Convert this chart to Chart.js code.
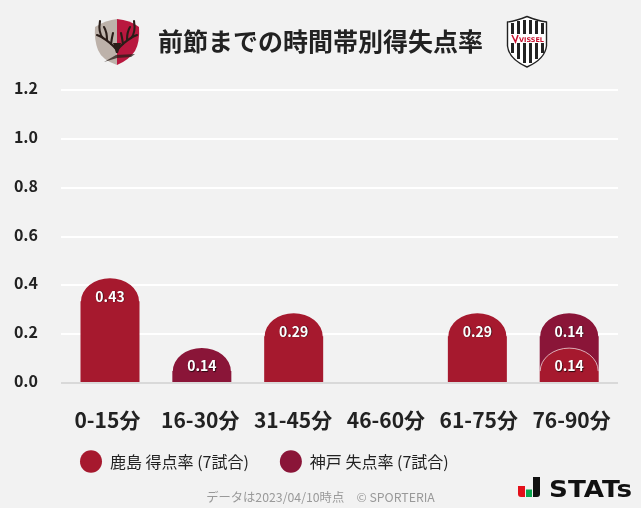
<!DOCTYPE html>
<html lang="ja">
<head>
<meta charset="utf-8">
<style>
html,body{margin:0;padding:0;background:#f2f2f2;}
#wrap{position:relative;width:641px;height:508px;overflow:hidden;}
canvas{position:absolute;left:0;top:0;}
svg{position:absolute;left:0;top:0;pointer-events:none;}
</style>
<script src="https://cdn.jsdelivr.net/npm/chart.js@4/dist/chart.umd.js"></script>
</head>
<body>
<div id="wrap">
<canvas id="c" width="641" height="508"></canvas>
<svg width="641" height="508" viewBox="0 0 641 508">
  <!-- Kashima crest -->
  <path d="M95 27 Q106 20 117 19 L117 65 Q102 60 98 50 Q94 40 95 27Z" fill="#bdb2aa"/>
  <path d="M117 19 Q130 20 139 27 Q140 42 135 51 Q129 60 117 65Z" fill="#b9183f"/>
  <g fill="none" stroke="#2a1d18" stroke-width="2.1" stroke-linecap="round">
    <path d="M117 50 Q110 42 103 38 Q98 33 100 21"/>
    <path d="M103 38 Q100 36 97 35"/>
    <path d="M107 40 Q107 32 104 27"/>
    <path d="M111 44 Q112 37 113 33"/>
    <path d="M117 50 Q124 42 131 38 Q136 33 134 21"/>
    <path d="M131 38 Q134 36 137 35"/>
    <path d="M127 40 Q127 32 130 27"/>
    <path d="M123 44 Q122 37 121 33"/>
  </g>
  <path d="M113 43 L121 43 L118 53 L116 53Z" fill="#2a1d18"/>
  <path d="M104 62 L116 55 L135 54 L131 57 L117 58Z" fill="#2a1d18" opacity=".75"/>
  <!-- Vissel crest -->
  <path d="M527 16.5 Q538 21 546.5 22 L546.5 46 Q545 59 527 67 Q509 59 507.5 46 L507.5 22 Q516 21 527 16.5Z" fill="#fff" stroke="#222" stroke-width="1.4"/>
  <g fill="#222">
    <rect x="511" y="23" width="3" height="30"/>
    <rect x="517" y="21" width="3" height="38"/>
    <rect x="523" y="20" width="3" height="43"/>
    <rect x="529" y="20" width="3" height="43"/>
    <rect x="535" y="21" width="3" height="38"/>
    <rect x="541" y="23" width="3" height="30"/>
  </g>
  <rect x="509" y="34" width="36" height="9" fill="#fff"/>
  <path d="M512 35 L515.5 42 L518 35" fill="none" stroke="#c8102e" stroke-width="1.5"/>
  <text x="519" y="42" font-family="DejaVu Sans" font-weight="700" font-size="6.5" fill="#c8102e" textLength="25" lengthAdjust="spacingAndGlyphs">VISSEL</text>
  <!-- STATs mark -->
  <path d="M518 486 H525 V497 H521 Q518 497 518 494Z" fill="#e3101a"/>
  <rect x="526" y="489.5" width="6" height="7.5" fill="#0aa64f"/>
  <path d="M533 477 H540 V494 Q540 497 537 497 H533Z" fill="#111"/>
  <text x="549" y="497" font-family="DejaVu Sans" font-weight="700" font-size="23" fill="#111" textLength="83" lengthAdjust="spacingAndGlyphs">STATs</text>
</svg>
</div>
<script>
const categories = ['0-15分','16-30分','31-45分','46-60分','61-75分','76-90分'];
const kashimaScored = [0.429, null, 0.286, null, 0.286, 0.143];
const kobeConceded  = [null, 0.143, null, null, null, 0.143];
const yTicks = [0, 0.2, 0.4, 0.6, 0.8, 1.0, 1.2];
const seriesNames = ['鹿島 得点率 (7試合)', '神戸 失点率 (7試合)'];
const seriesColors = ['#a6192e', '#8a1538'];
const titleText = '前節までの時間帯別得失点率';
const footerText = 'データは2023/04/10時点　© SPORTERIA';

const FONT = '"Noto Sans CJK JP","Noto Sans",sans-serif';
const DOME = 23;
const SQUEEZE = 0.9893;   // bars sit slightly inward of the tick labels
const squeeze = (x, chart) => {
  const c = (chart.chartArea.left + chart.chartArea.right) / 2;
  return c + (x - c) * SQUEEZE + 0.1;
};

// Dome-topped bars: geometry comes from the bar element the library computed.
Chart.BarElement.prototype.draw = function (ctx) {
  const p = this.getProps(['x','y','base','width']);
  const {y, base, width} = p;
  if (!isFinite(y) || Math.abs(base - y) < 1) return;
  const x = this.$cx != null ? this.$cx : p.x;
  const hw = width / 2, stacked = base < this.$axisBottom - 1;
  const bottom = stacked ? base + DOME : base;
  const dome = Math.min(DOME, bottom - y);
  ctx.save();
  ctx.fillStyle = this.options.backgroundColor;
  ctx.beginPath();
  ctx.moveTo(x - hw, bottom);
  ctx.lineTo(x - hw, y + dome);
  ctx.lineTo(x - hw + 0.5, y + dome);
  ctx.ellipse(x, y + dome, hw - 0.5, dome, 0, Math.PI, 2 * Math.PI);
  ctx.lineTo(x + hw, y + dome);
  ctx.lineTo(x + hw, bottom);
  ctx.closePath();
  ctx.fill();
  if (this.$outline) {
    ctx.strokeStyle = 'rgba(255,255,255,0.65)';
    ctx.lineWidth = 1;
    ctx.beginPath();
    ctx.ellipse(x, y + dome, hw - 0.5, dome, 0, Math.PI, 2 * Math.PI);
    ctx.stroke();
  }
  ctx.restore();
};

const prepPlugin = {
  id: 'prepBars',
  beforeDatasetsDraw(chart) {
    const y = chart.scales.y;
    chart.data.datasets.forEach((ds, di) => {
      chart.getDatasetMeta(di).data.forEach((b, i) => {
        b.$axisBottom = y.getPixelForValue(0);
        b.$cx = squeeze(b.x, chart);
        b.$outline = di === 0 && kobeConceded[i] != null && kashimaScored[i] != null;
      });
    });
  }
};

const labelPlugin = {
  id: 'barLabels',
  afterDatasetsDraw(chart) {
    const {ctx} = chart;
    ctx.save();
    ctx.font = '700 14px ' + FONT;
    ctx.textAlign = 'center';
    ctx.textBaseline = 'middle';
    chart.data.datasets.forEach((ds, di) => {
      chart.getDatasetMeta(di).data.forEach((bar, i) => {
        if (ds.data[i] == null) return;
        const txt = ds.data[i].toFixed(2);
        ctx.shadowColor = 'rgba(0,0,0,0.7)';
        ctx.shadowBlur = 1;
        ctx.shadowOffsetX = 0.7;
        ctx.shadowOffsetY = 0.7;
        ctx.fillStyle = '#fff';
        ctx.fillText(txt, bar.$cx, bar.y + 18);
      });
    });
    ctx.restore();
  }
};

const placePlugin = {
  id: 'placeBoxes',
  beforeDraw(chart) {
    chart.legend.left = 80 - chart.options.plugins.legend.labels.padding;
    chart.legend.top = 422.5;
    chart.boxes.forEach(b => {
      if (b === chart.titleBlock) { b.left = 0; b.right = 641; }
      else if (b.options && b.options.text === footerText) { b.left = 0; b.right = 641; b.top = 485.6; b.bottom = b.top + b.height; }
    });
  }
};

new Chart(document.getElementById('c'), {
  type: 'bar',
  data: {
    labels: categories,
    datasets: [
      {label: seriesNames[0], data: kashimaScored, backgroundColor: seriesColors[0], pointStyle: 'circle'},
      {label: seriesNames[1], data: kobeConceded, backgroundColor: seriesColors[1], pointStyle: 'circle'}
    ]
  },
  options: {
    responsive: false,
    animation: false,
    layout: {padding: {left: 0, right: 23, top: 0, bottom: -28}},
    datasets: {bar: {categoryPercentage: 1, barPercentage: 0.6355}},
    scales: {
      x: {
        stacked: true,
        grid: {display: false, drawTicks: false},
        border: {display: false},
        ticks: {color: '#222', font: {family: FONT, size: 21, weight: '700'}, padding: 24.5, maxRotation: 0}
      },
      y: {
        stacked: true,
        min: 0, max: 1.2,
        afterBuildTicks(axis) { axis.ticks = yTicks.map(v => ({value: v})); },
        afterFit(axis) { axis.width = 61; },
        grid: {color: c => (c.tick && c.tick.value === 0) ? '#d9d9d9' : '#ffffff', lineWidth: 2, drawTicks: false},
        border: {display: false},
        ticks: {color: '#222', font: {family: FONT, size: 16, weight: '700'}, padding: 23, labelOffset: -2, callback: v => Number(v).toFixed(1)}
      }
    },
    plugins: {
      title: {display: true, text: titleText, color: '#222', font: {family: FONT, size: 25, weight: '700', lineHeight: 1.2}, padding: {top: 26, bottom: 34}},
      subtitle: {display: true, position: 'bottom', text: footerText, color: '#999', font: {family: FONT, size: 12.3, weight: '400', lineHeight: 1.2}, padding: {top: 4, bottom: 3}},
      legend: {
        position: 'bottom', align: 'start',
        labels: {usePointStyle: true, pointStyleWidth: 22, padding: 31, color: '#222', font: {family: FONT, size: 16, lineHeight: 1.2}}
      },
      tooltip: {enabled: false}
    }
  },
  plugins: [prepPlugin, labelPlugin, placePlugin]
});
</script>
</body>
</html>
